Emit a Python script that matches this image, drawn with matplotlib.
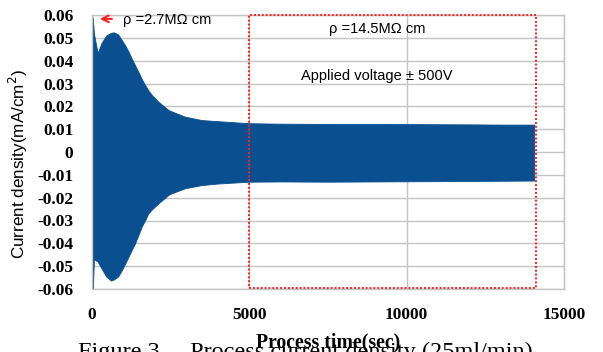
import matplotlib
matplotlib.use("Agg")
import matplotlib.pyplot as plt
from matplotlib.patches import Rectangle

# ---- data (envelope of the oscillating current) ----
time_s = [0, 30, 60, 100, 180, 300, 450, 600, 700, 830, 950, 1050, 1160, 1260,
          1370, 1470, 1580, 1690, 1790, 1900, 2110, 2430, 2530, 2950, 3480, 4000,
          5000, 6000, 7500, 9000, 10500, 12000, 13000, 14050]
upper = [0.060, 0.058, 0.052, 0.049, 0.0434, 0.0477, 0.0510, 0.0522, 0.0524, 0.0515,
         0.0490, 0.0468, 0.0440, 0.0410, 0.0380, 0.0352, 0.0320, 0.0293, 0.0270,
         0.0250, 0.0220, 0.0184, 0.0178, 0.0155, 0.0140, 0.0135, 0.0126, 0.0124,
         0.0123, 0.0123, 0.0122, 0.0121, 0.0120, 0.0120]
lower = [-0.060, -0.060, -0.047, -0.0473, -0.048, -0.051, -0.0545, -0.0563, -0.0558,
         -0.0545, -0.0517, -0.049, -0.0459, -0.043, -0.040, -0.0365, -0.0327, -0.0298,
         -0.0269, -0.0252, -0.0225, -0.0188, -0.0181, -0.0159, -0.0145, -0.0138,
         -0.0130, -0.0129, -0.0130, -0.0129, -0.0128, -0.0127, -0.0126, -0.0125]

x_ticks = [0, 5000, 10000, 15000]
x_tick_labels = ["0", "5000", "10000", "15000"]
y_ticks = [0.06, 0.05, 0.04, 0.03, 0.02, 0.01, 0, -0.01, -0.02, -0.03, -0.04, -0.05, -0.06]
y_tick_labels = ["0.06", "0.05", "0.04", "0.03", "0.02", "0.01", "0",
                 "-0.01", "-0.02", "-0.03", "-0.04", "-0.05", "-0.06"]

box_start, box_end = 5000, 14100

fill_color = "#0A5091"
grid_color = "#C4C4C4"
serif = ["Liberation Serif", "DejaVu Serif"]
sans = ["Liberation Sans", "DejaVu Sans"]

fig = plt.figure(figsize=(6.03, 3.52), dpi=100)
ax = fig.add_axes([92/603, 1-289/352, (564-92)/603, (289-15)/352])

ax.fill_between(time_s, lower, upper, color=fill_color, lw=0.6, edgecolor=fill_color, zorder=2)

ax.set_xlim(0, 15000)
ax.set_ylim(-0.06, 0.06)
ax.set_xticks(x_ticks)
ax.set_xticklabels(x_tick_labels, fontfamily=serif, fontweight="bold", fontsize=12.5)
ax.set_yticks(y_ticks)
ax.set_yticklabels(y_tick_labels, fontfamily=serif, fontweight="bold", fontsize=12.5)
ax.tick_params(axis="x", length=0, pad=13)
ax.tick_params(axis="y", length=0, pad=13.5)
ax.grid(True, color=grid_color, lw=1.0, zorder=0)
ax.set_axisbelow(True)
for s in ax.spines.values():
    s.set_color(grid_color)
    s.set_linewidth(1.0)

ax.set_xlabel("Process time(sec)", fontfamily=serif, fontweight="bold", fontsize=14.2)
ax.xaxis.set_label_coords(0.5, -0.16)
ax.set_ylabel("Current density(mA/cm$^2$)", fontfamily=sans, fontsize=12.3)
ax.yaxis.set_label_coords(-0.131, 0.455)

# red dotted box
rect = Rectangle((box_start, -0.0595), box_end - box_start, 0.1197, fill=False,
                 edgecolor="#FF2020", lw=1.4, linestyle=(0, (1, 1)), zorder=4, clip_on=False)
ax.add_patch(rect)

# annotations
ax.annotate("", xy=(160, 0.0583), xytext=(720, 0.0583),
            arrowprops=dict(arrowstyle="->", color="#FF2020", lw=1.5,
                            mutation_scale=12), zorder=5)
ax.text(980, 0.0578, "ρ =2.7MΩ cm", fontfamily=sans, fontsize=10.5, va="center", ha="left", zorder=5)
ax.text(9050, 0.0540, "ρ =14.5MΩ cm", fontfamily=sans, fontsize=10.5, va="center", ha="center", zorder=5)
ax.text(9050, 0.0333, "Applied voltage ± 500V", fontfamily=sans, fontsize=10.5, va="center", ha="center", zorder=5)

# partially visible caption at bottom
fig.text(78/603, 1-358/352, "Figure 3　 Process current density (25ml/min)",
         fontfamily=["Liberation Serif", "Noto Sans CJK JP", "DejaVu Serif"],
         fontsize=17.5, va="baseline", ha="left")

fig.savefig("out.png", dpi=100)
